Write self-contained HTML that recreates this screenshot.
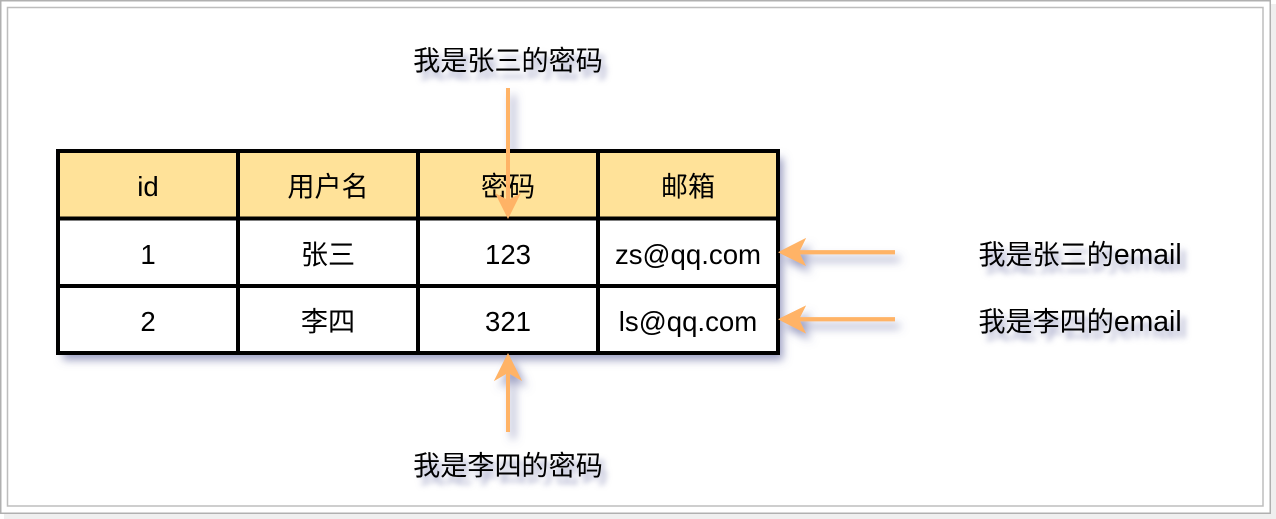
<!DOCTYPE html>
<html lang="zh">
<head>
<meta charset="utf-8">
<style>
html,body{margin:0;padding:0;background:#fff;width:1276px;height:519px;overflow:hidden}
svg{display:block}
text{font-family:"Liberation Sans","Noto Sans CJK SC",sans-serif;font-size:27.1px;fill:#000;text-anchor:middle}
text.n{font-size:27.6px}
.e{font-size:28.4px}
.l{text-shadow:5px 7px 6px rgba(100,105,160,.6)}
</style>
</head>
<body>
<svg width="1276" height="519" viewBox="0 0 1276 519" xmlns="http://www.w3.org/2000/svg">
<defs>
<filter id="sh" x="-20%" y="-20%" width="140%" height="140%">
<feDropShadow dx="5" dy="7" stdDeviation="4.5" flood-color="#5f649c" flood-opacity=".62"/>
</filter>
<g id="arrows">
<path d="M506 88H510V199L521 193L508 219L495 193L506 199Z"/>
<path d="M506 432H510V374L522 381L508 353L494 381L506 374Z"/>
<path d="M895 250.3V254.3H800L806 266L778 252.3L806 238L800 250.3Z"/>
<path d="M895 317.3V321.3H800L806 333.5L778 319.3L806 305.5L800 317.3Z"/>
</g>
</defs>
<!-- frame -->
<rect x="4" y="4" width="1272" height="515" fill="#efefef"/>
<rect x="0.75" y="0.75" width="1269.5" height="512.5" fill="#fff" stroke="#b0b0b0" stroke-width="1.5"/>
<rect x="7.5" y="7.5" width="1255.5" height="498.5" fill="#fff" stroke="#bdbdbd" stroke-width="1.5"/>

<!-- arrow shadows sit behind the table -->
<use href="#arrows" fill="#ffb366" filter="url(#sh)"/>

<!-- table -->
<g filter="url(#sh)">
<rect x="58" y="151" width="720" height="202" fill="#fff"/>
</g>
<rect x="58" y="151" width="720" height="67.5" fill="#ffe299"/>
<g fill="none" stroke="#000" stroke-width="4">
<rect x="58" y="151" width="720" height="202"/>
<path d="M238 149V355M418 149V355M598 149V355M56 218.5H780M56 286H780"/>
</g>

<!-- cell text -->
<text class="n" x="148" y="196">id</text>
<text x="328" y="196">用户名</text>
<text x="508" y="196">密码</text>
<text x="688" y="196">邮箱</text>
<text class="n" x="148" y="264">1</text>
<text x="328" y="264">张三</text>
<text class="n" x="508" y="264">123</text>
<text class="n" x="688" y="264">zs@qq.com</text>
<text class="n" x="148" y="331">2</text>
<text x="328" y="331">李四</text>
<text class="n" x="508" y="331">321</text>
<text class="n" x="688" y="331">ls@qq.com</text>

<!-- arrows on top -->
<use href="#arrows" fill="#ffb366"/>

<!-- labels -->
<text class="l" x="508" y="70">我是张三的密码</text>
<text class="l" x="508" y="475">我是李四的密码</text>
<text class="l" x="1080" y="264">我是张三的<tspan class="e">email</tspan></text>
<text class="l" x="1080" y="331">我是李四的<tspan class="e">email</tspan></text>
</svg>
</body>
</html>
